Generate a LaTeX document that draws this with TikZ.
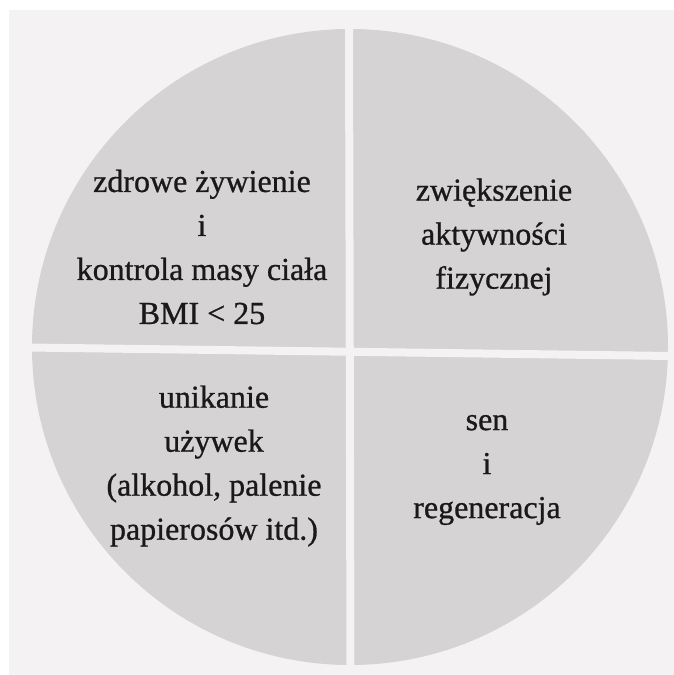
\documentclass[tikz,border=0pt]{standalone}
\usepackage{fontspec}
\setmainfont{Liberation Serif}[FakeBold=0.8]
\definecolor{tlo}{RGB}{244,242,242}
\definecolor{kolo}{RGB}{213,211,212}
\tikzset{every picture/.style={line width=0.55pt}}
\tikzset{
  opis/.style={align=center, inner sep=0pt, text=black!90,
    font=\fontsize{32}{44}\selectfont},
  szczelina/.style={draw=tlo, line width=8pt}
}
\begin{document}
\begin{tikzpicture}[x=1pt,y=1pt,yscale=-1,xscale=1]
            \useasboundingbox (0,0) rectangle (674,675);
            \fill [white] (0,0) rectangle (674,675);
            \fill [tlo] (9,10) rectangle (674,675);
            \fill [kolo] (350,347) circle [radius=318];
            % gaps between quarters
            \coordinate (g) at (349,26);
            \coordinate (d) at (350.5,669);
            \coordinate (l) at (28,347.5);
            \coordinate (p) at (672,356);
            \draw [szczelina] (g) -- (d);
            \draw [szczelina] (l) -- (p);
            \node [opis] (zywienie) at (202,247) {zdrowe żywienie\\i\\kontrola masy ciała\\BMI < 25};
            \node [opis] (aktywnosc) at (494,237) {zwiększenie\\aktywności\\fizycznej};
            \node [opis] (uzywki) at (214,466) {unikanie\\używek\\(alkohol, palenie\\papierosów itd.)};
            \node [opis] (sen) at (487,470) {sen\\i\\regeneracja};
        \end{tikzpicture}
\end{document}
